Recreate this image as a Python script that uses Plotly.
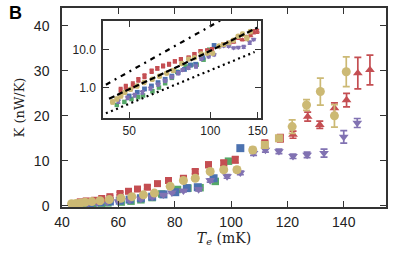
import plotly.graph_objects as go

# ---------------- data ----------------
red_sq_T = [46.5, 48.6, 51.6, 54.1, 57.0, 60.6, 63.6, 66.8, 70.3, 73.9, 77.8, 83.1, 87.3, 92.0, 97.4, 101.5, 112.0, 117.5]
red_sq_K = [0.85, 1.05, 1.2, 1.6, 2.0, 2.7, 3.2, 3.7, 4.1, 4.9, 5.6, 6.1, 7.6, 9.1, 9.5, 10.2, 13.8, 15.0]
red_sq_E = [0.15, 0.15, 0.2, 0.2, 0.25, 0.3, 0.3, 0.35, 0.4, 0.4, 0.45, 0.5, 0.5, 0.6, 0.6, 0.7, 0.8, 0.8]

red_tri_T = [122.0, 127.2, 131.5, 136.7, 141.0, 145.0, 149.3]
red_tri_K = [15.8, 19.8, 18.0, 21.7, 23.5, 29.5, 30.2]
red_tri_E = [0.8, 1.0, 0.8, 1.2, 1.5, 3.5, 3.3]

yel_ci_T = [43.4, 45.0, 46.6, 48.2, 50.6, 53.5, 56.8, 60.9, 64.8, 68.9, 72.8, 78.4, 83.1, 87.3, 92.6, 97.4, 102.1, 107.7, 121.7, 126.8, 131.7, 136.7, 140.9]
yel_ci_K = [0.42, 0.5, 0.6, 0.75, 0.9, 1.1, 1.35, 1.65, 2.0, 2.4, 2.8, 4.3, 5.6, 6.1, 7.6, 8.0, 8.0, 12.4, 17.6, 22.4, 25.4, 20.0, 29.8]
yel_ci_E = [0.05, 0.05, 0.06, 0.07, 0.08, 0.1, 0.12, 0.15, 0.2, 0.2, 0.25, 0.3, 0.35, 0.4, 0.4, 0.45, 0.5, 0.6, 1.5, 1.2, 3.0, 2.5, 3.3]

yel_sq_T = [112.0, 117.0]
yel_sq_K = [13.5, 15.0]
yel_sq_E = [0.5, 0.6]

blu_T = [50.0, 53.6, 57.0, 60.5, 64.0, 68.0, 72.0, 76.0, 80.2, 84.3, 88.2, 93.8, 103.3]
blu_K = [0.6, 0.75, 0.92, 1.1, 1.35, 1.65, 2.0, 2.5, 3.0, 3.9, 4.1, 6.1, 12.8]

grn_T = [45.0, 48.0, 51.0, 54.0, 56.3, 61.0, 64.5, 68.0, 72.0, 75.4, 81.0, 84.7, 89.0, 94.4, 99.1]
grn_K = [0.35, 0.42, 0.5, 0.56, 0.62, 0.8, 1.0, 1.3, 1.8, 2.6, 3.6, 3.9, 4.0, 5.4, 9.9]

pur_T = [45.6, 49.3, 52.4, 56.0, 60.0, 64.0, 68.0, 72.0, 76.0, 79.0, 83.1, 88.5, 92.6, 98.6, 103.3, 108.0, 112.2, 117.0, 122.0, 127.0, 133.0, 140.0, 144.8]
pur_K = [0.44, 0.54, 0.63, 0.75, 0.95, 1.2, 1.5, 1.9, 2.4, 2.9, 3.3, 3.6, 5.6, 6.5, 7.3, 11.7, 12.4, 12.1, 11.0, 11.3, 11.7, 15.3, 18.4]
pur_E = [0.05, 0.05, 0.06, 0.07, 0.08, 0.1, 0.12, 0.15, 0.2, 0.2, 0.25, 0.3, 0.35, 0.4, 0.4, 0.5, 0.5, 0.5, 0.5, 0.6, 0.9, 1.4, 1.0]

# guide lines in the inset
dashdot_T = [41.0, 110.0]
dashdot_K = [1.19, 60.0]
dashed_T = [42.1, 78.0, 150.0]
dashed_K = [0.51, 3.9, 38.0]
dotted_T = [41.0, 146.0]
dotted_K = [0.21, 8.6]

RED = "#C44E52"
YEL = "#CCB974"
BLU = "#4C72B0"
GRN = "#55A868"
PUR = "#8172B2"

fig = go.Figure()


def add_series(T, K, E, color, symbol, size, xa, ya, capw):
    err = None
    if E is not None:
        err = dict(type="data", array=E, color=color, thickness=1.7, width=capw, visible=True)
    fig.add_trace(go.Scatter(
        x=T, y=K, mode="markers", xaxis=xa, yaxis=ya,
        marker=dict(color=color, symbol=symbol, size=size, line=dict(width=0)),
        error_y=err, showlegend=False, hoverinfo="skip"))


for xa, ya, sc, cw in (("x", "y", 1.0, 3.5), ("x2", "y2", 0.6, 2)):
    add_series(grn_T, grn_K, None, GRN, "square", 7.5 * sc, xa, ya, cw)
    add_series(blu_T, blu_K, None, BLU, "square", 8 * sc, xa, ya, cw)
    add_series(pur_T, pur_K, pur_E, PUR, "triangle-down", 8.5 * sc, xa, ya, cw)
    add_series(red_sq_T, red_sq_K, red_sq_E, RED, "square", 7 * sc, xa, ya, cw)
    add_series(red_tri_T, red_tri_K, red_tri_E, RED, "triangle-up", 8.5 * sc, xa, ya, cw)
    add_series(yel_sq_T, yel_sq_K, yel_sq_E, YEL, "square", 8 * sc, xa, ya, cw)
    add_series(yel_ci_T, yel_ci_K, yel_ci_E, YEL, "circle", 9 * sc, xa, ya, cw)

for T, K, dash in ((dashdot_T, dashdot_K, "5px,5px,2px,5px"),
                   (dashed_T, dashed_K, "6px,3px"),
                   (dotted_T, dotted_K, "2px,3.5px")):
    fig.add_trace(go.Scatter(x=T, y=K, mode="lines", xaxis="x2", yaxis="y2",
                             line=dict(color="black", width=2.2, dash=dash),
                             showlegend=False, hoverinfo="skip"))

axis_common = dict(showgrid=False, zeroline=False, showline=True, linecolor="#333333",
                   linewidth=1.5, mirror="ticks", ticks="inside", tickcolor="#333333",
                   tickwidth=1.3, automargin=False)

W, H = 415, 259
L, R, T_, B = 62, 29, 8, 52
PW, PH = W - L - R, H - T_ - B


def fx(px):
    return (px - L) / PW


def fy(py):
    return (H - B - py) / PH


fig.update_layout(
    width=W, height=H, margin=dict(l=L, r=R, t=T_, b=B, pad=0),
    paper_bgcolor="white", plot_bgcolor="white",
    font=dict(family="Liberation Sans, Arial, sans-serif", color="#222222"),
    xaxis=dict(domain=[0, 1], range=[40, 155], tickvals=[40, 60, 80, 100, 120, 140],
               ticklen=6, tickfont=dict(size=14), ticklabelstandoff=1,
               title=dict(text="<i>T</i><sub><i>e</i></sub> (mK)", standoff=4,
                          font=dict(family="DejaVu Serif, serif", size=14)),
               anchor="y", **axis_common),
    yaxis=dict(domain=[0, 1], range=[-0.3, 44], tickvals=[0, 10, 20, 30, 40],
               ticklen=6, tickfont=dict(size=14), ticklabelstandoff=8,
               title=dict(text="K (nW/K)", standoff=6,
                          font=dict(family="DejaVu Serif, serif", size=13)),
               anchor="x", **axis_common),
    xaxis2=dict(domain=[fx(103), fx(261)], type="log", range=[1.602, 2.188],
                tickvals=[50, 100, 150], ticktext=["50", "100", "150"],
                ticklen=6, tickfont=dict(size=12), ticklabelstandoff=1,
                anchor="y2", **axis_common),
    yaxis2=dict(domain=[fy(118), fy(21)], type="log", range=[-0.8, 1.75],
                tickvals=[1, 10], ticktext=["1.0", "10.0"],
                ticklen=6, tickfont=dict(size=12), ticklabelstandoff=3,
                anchor="x2", **axis_common),
    annotations=[dict(text="<b>B</b>", x=fx(7), y=fy(1), xref="paper", yref="paper",
                      xanchor="left", yanchor="top", showarrow=False,
                      font=dict(size=18, family="Liberation Sans, Arial, sans-serif", color="black"))],
)

fig.write_html("out.html", config={"displayModeBar": False},
               post_script="document.body.style.margin='0';document.body.style.padding='0';")
